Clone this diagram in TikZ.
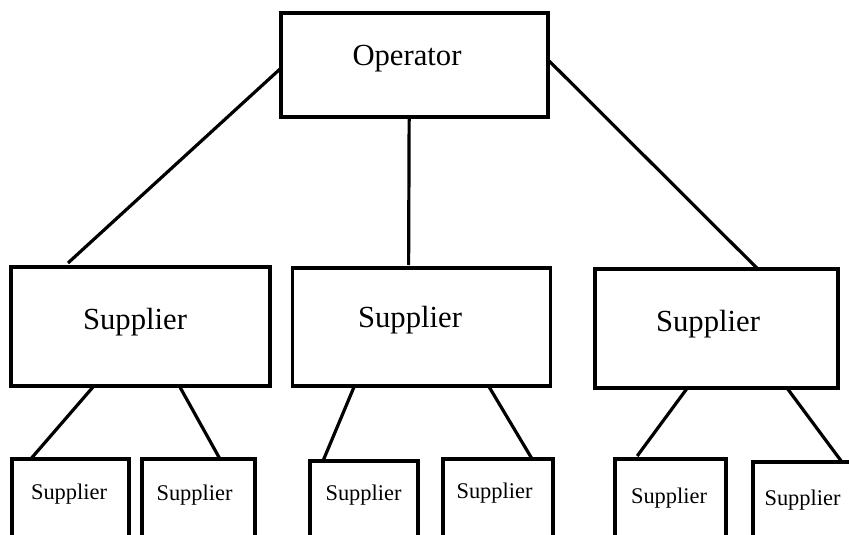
\documentclass[tikz,border=0pt]{standalone}
\usepackage{fontspec}
\setmainfont{Liberation Serif}
\usetikzlibrary{calc}
\newdimen\px \px=0.75pt
\begin{document}
\begin{tikzpicture}[x=0.75pt,y=-0.75pt,
  box/.style={draw,line width=2.4pt,inner sep=0,outer sep=0},
  link/.style={line width=2.4pt},
  bigtxt/.style={font=\fontsize{23}{26}\selectfont,anchor=base,inner sep=0},
  smalltxt/.style={font=\fontsize{16.8}{19}\selectfont,anchor=base,inner sep=0}]
\useasboundingbox (0,0) rectangle (849,535);
\clip (0,0) rectangle (849,535);
% boxes
\node[box,minimum width=267\px,minimum height=104\px] (op) at (414.5,65) {};
\node[box,minimum width=259\px,minimum height=119\px] (s1) at (140.5,326.5) {};
\node[box,minimum width=258\px,minimum height=118\px] (s2) at (421.5,327) {};
\node[box,minimum width=243\px,minimum height=119\px] (s3) at (716.5,328.5) {};
\node[box,minimum width=117\px,minimum height=101\px] (b1) at (70.5,509.5) {};
\node[box,minimum width=113\px,minimum height=101\px] (b2) at (198.5,509.5) {};
\node[box,minimum width=108\px,minimum height=99\px] (b3) at (364,510.5) {};
\node[box,minimum width=110\px,minimum height=101\px] (b4) at (498,509.5) {};
\node[box,minimum width=111\px,minimum height=101\px] (b5) at (670.5,509.5) {};
\node[box,minimum width=117\px,minimum height=98\px] (b6) at (811.5,511) {};
% texts
\node[bigtxt] (top) at (407,65) {Operator};
\node[bigtxt] (t1) at (135,329) {Supplier};
\node[bigtxt] (t2) at (410,327) {Supplier};
\node[bigtxt] (t3) at (708,331) {Supplier};
\node[smalltxt] (u1) at (69,499) {Supplier};
\node[smalltxt] (u2) at (194.5,500) {Supplier};
\node[smalltxt] (u3) at (363.5,500) {Supplier};
\node[smalltxt] (u4) at (494.5,498) {Supplier};
\node[smalltxt] (u5) at (669,503) {Supplier};
\node[smalltxt] (u6) at (802.5,505) {Supplier};
% connectors
\draw[link] ($(op.north west)!0.53!(op.south west)$) -- ($(s1.north west)!0.22!(s1.north east)+(0,-4)$);
\draw[link] ($(op.south west)!0.48!(op.south east)$) -- ($(s2.north west)!0.45!(s2.north east)+(0,-3)$);
\draw[link] ($(op.north east)!0.45!(op.south east)$) -- ($(s3.north west)!0.67!(s3.north east)$);
\draw[link] ($(s1.south west)!0.32!(s1.south east)$) -- ($(b1.north west)!0.16!(b1.north east)$);
\draw[link] ($(s1.south west)!0.65!(s1.south east)$) -- ($(b2.north west)!0.69!(b2.north east)$);
\draw[link] ($(s2.south west)!0.24!(s2.south east)$) -- ($(b3.north west)!0.12!(b3.north east)$);
\draw[link] ($(s2.south west)!0.76!(s2.south east)$) -- ($(b4.north west)!0.81!(b4.north east)$);
\draw[link] ($(s3.south west)!0.38!(s3.south east)$) -- ($(b5.north west)!0.2!(b5.north east)+(0,-3)$);
\draw[link] ($(s3.south west)!0.79!(s3.south east)$) -- ($(b6.north west)!0.76!(b6.north east)$);
\end{tikzpicture}
\end{document}
